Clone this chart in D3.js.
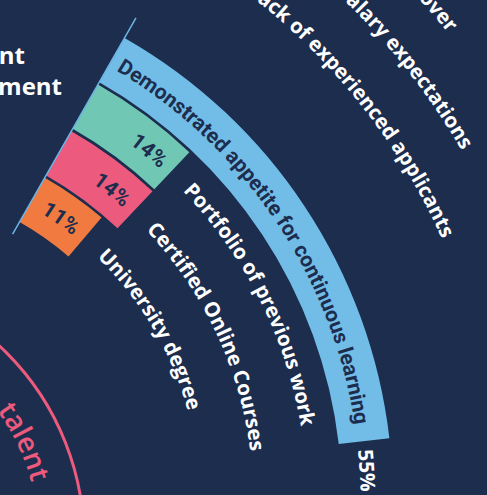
<!DOCTYPE html>
<head>
<meta charset="utf-8">
<style>
body { margin: 0; background: #1c2d4e; }
svg { display: block; }
.title {
  font-family: "Open Sans", sans-serif;
  font-weight: 700;
  font-size: 24px;
  fill: #fff;
}
.barText {
  font-family: Roboto, sans-serif;
  font-weight: 700;
  font-size: 21px;
  fill: #1c2d4e;
}
.label {
  font-family: "Open Sans", sans-serif;
  font-weight: 700;
  font-size: 20.5px;
  fill: #fff;
}
.hub {
  font-family: "Open Sans", sans-serif;
  font-weight: 600;
  font-size: 28px;
  fill: #ec5b7d;
}
</style>
</head>
<body>
<svg width="487" height="495"></svg>
<script src="https://d3js.org/d3.v7.min.js"></script>
<script>
// data
var categories = ["Demonstrated appetite for continuous learning", "Portfolio of previous work", "Certified Online Courses", "University degree"];
var values = [55, 14, 14, 11];
var valueLabels = ["55%", "14%", "14%", "11%"];
var outerLabels = ["Staff turnover", "Salary expectations", "Lack of experienced applicants"];
var titleLines = ["nt", "ment"];
var hubText = "talent";

var svg = d3.select("svg"),
    W = +svg.attr("width"),
    H = +svg.attr("height"),
    deg = Math.PI / 180,
    fsBar = 21,
    fsLab = 20.5;

svg.append("rect").attr("width", W).attr("height", H).attr("fill", "#1c2d4e");
var defs = svg.append("defs");
var g = svg.append("g").attr("transform", "translate(-139,500)");

var rad = d3.scaleBand()
    .domain(categories.slice().reverse())
    .range([320, 532])
    .paddingInner(0.05);
var ang = d3.scaleLinear()
    .domain([0, 100])
    .range([29.7 * deg, (29.7 + 97.5) * deg]);
var color = d3.scaleOrdinal()
    .domain(categories)
    .range(["#72bce8", "#6fc7b4", "#ec5b7d", "#f07a40"]);

var data = categories.map(function(c, i) { return {name: c, value: values[i], label: valueLabels[i], i: i}; });

function arcD(r, a0, a1) {
  var large = (a1 - a0) > Math.PI ? 1 : 0;
  return "M" + r * Math.sin(a0) + "," + (-r * Math.cos(a0)) +
    "A" + r + "," + r + " 0 " + large + " 1 " + r * Math.sin(a1) + "," + (-r * Math.cos(a1));
}

var arc = d3.arc()
    .innerRadius(function(d) { return rad(d.name); })
    .outerRadius(function(d) { return rad(d.name) + rad.bandwidth(); })
    .startAngle(ang(0))
    .endAngle(function(d) { return ang(d.value); });

g.selectAll("path.bar")
  .data(data)
  .enter().append("path")
    .attr("class", "bar")
    .attr("d", arc)
    .attr("fill", function(d) { return color(d.name); });

// start line
var r0 = rad.range()[0] - 14, r1 = rad.range()[1] + 23;
g.append("line")
    .attr("x1", r0 * Math.sin(ang(0))).attr("y1", -r0 * Math.cos(ang(0)))
    .attr("x2", r1 * Math.sin(ang(0))).attr("y2", -r1 * Math.cos(ang(0)))
    .attr("stroke", "#6cb4e4")
    .attr("stroke-width", 1.5);

// texts along the arcs
data.forEach(function(d) {
  var mid = rad(d.name) + rad.bandwidth() / 2,
      inside = d.value > 30,
      id = "bp" + d.i;
  var rb = mid - 0.33 * (inside ? fsBar : fsLab);
  defs.append("path").attr("id", id).attr("d", arcD(rb, ang(0), ang(0) + 175 * deg));
  var L = rb * (ang(d.value) - ang(0));

  g.append("text").attr("class", inside ? "barText" : "label")
    .append("textPath").attr("href", "#" + id)
    .attr("startOffset", inside ? 9 : L + 22)
    .text(d.name);

  g.append("text").attr("class", inside ? "label" : "barText")
    .attr("text-anchor", inside ? "start" : "end")
    .append("textPath").attr("href", "#" + id)
    .attr("startOffset", inside ? L + 8 : L - 10)
    .text(d.label);
});

// labels of the outer rings, cut by the frame
var outerR = [750, 695, 637], outerEnd = [51.5, 59.8, 65.8];
outerLabels.forEach(function(t, i) {
  defs.append("path").attr("id", "op" + i).attr("d", arcD(outerR[i], 0, outerEnd[i] * deg));
  g.append("text").attr("class", "label").attr("text-anchor", "end")
    .append("textPath").attr("href", "#op" + i)
    .attr("startOffset", "100%")
    .text(t);
});

// hub circle
var hub = svg.append("g").attr("transform", "translate(-181,540)");
hub.append("circle").attr("r", 265).attr("fill", "none").attr("stroke", "#ec5b7d").attr("stroke-width", 3);
defs.append("path").attr("id", "hp").attr("d", arcD(220, 54 * deg, 140 * deg));
hub.append("text").attr("class", "hub")
  .append("textPath").attr("href", "#hp")
  .text(hubText);

// title, mostly outside the frame
svg.selectAll("text.title")
  .data(titleLines)
  .enter().append("text")
    .attr("class", "title")
    .attr("text-anchor", "end")
    .attr("x", function(d, i) { return i ? 62 : 25; })
    .attr("y", function(d, i) { return 64 + i * 31; })
    .text(function(d) { return d; });
</script>
</body>
